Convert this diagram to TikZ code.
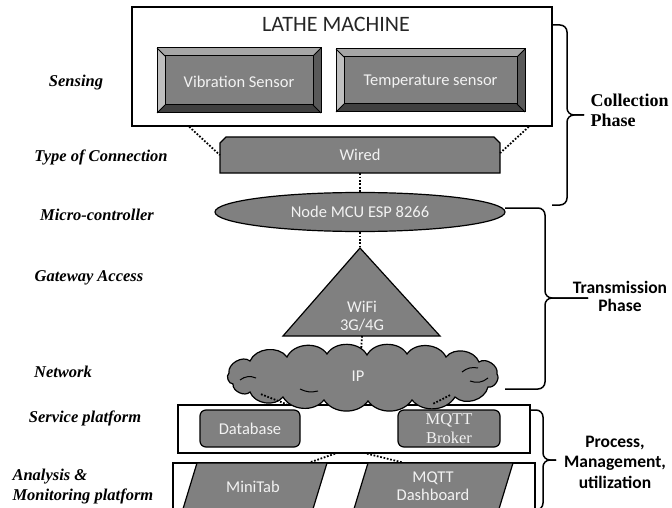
\documentclass[tikz,border=0pt]{standalone}
\usepackage{fontspec}
\setmainfont{Liberation Serif}
\newfontfamily\calibri{Carlito}
\usepackage{tikz}
\usetikzlibrary{shapes.geometric}

\definecolor{facegray}{RGB}{128,128,128}
\definecolor{lighttext}{RGB}{242,242,242}
\definecolor{bevlight}{RGB}{191,191,191}
\definecolor{bevmid}{RGB}{166,166,166}
\definecolor{bevdark}{RGB}{64,64,64}
\definecolor{bevdeep}{RGB}{89,89,89}
\definecolor{titletext}{RGB}{38,38,38}

\begin{document}
\begin{tikzpicture}[x=1pt,y=-1pt]
    \tikzstyle{graybox} = [draw, fill=facegray, line width=1.2pt]
    \tikzstyle{intext} = [text=lighttext, font=\calibri\fontsize{16.5}{18}\selectfont, align=center]
    \tikzstyle{lbl} = [font=\bfseries\itshape\fontsize{16.5}{20}\selectfont]
    \tikzstyle{dotline} = [line width=1.8pt, dash pattern=on 1.7pt off 1.7pt]
    \tikzstyle{bracket} = [line width=1.5pt, rounded corners=7pt]

    \useasboundingbox (0,0) rectangle (672,508);
    \clip (0,0) rectangle (672,508);

    % Lathe machine frame
    \node[draw, line width=1.5pt, minimum width=420pt, minimum height=119pt, inner sep=0pt] (lathe) at (342,66.5) {};
    \node[font=\calibri\fontsize{22}{24}\selectfont, text=titletext] (title) at (336,24) {LATHE MACHINE};

    % Bevelled sensor boxes
    \foreach \n/\xa/\ya/\xb/\yb/\txt in {vib/157/48/321/113/Vibration Sensor, temp/336/49/525/112/Temperature sensor} {
        \fill[facegray] (\xa+8,\ya+8) rectangle (\xb-8,\yb-8);
        \fill[bevmid] (\xa,\ya) -- (\xb,\ya) -- (\xb-8,\ya+8) -- (\xa+8,\ya+8) -- cycle;
        \fill[bevlight] (\xa,\ya) -- (\xa+8,\ya+8) -- (\xa+8,\yb-8) -- (\xa,\yb) -- cycle;
        \fill[bevdark] (\xa,\yb) -- (\xa+8,\yb-8) -- (\xb-8,\yb-8) -- (\xb,\yb) -- cycle;
        \fill[bevdeep] (\xb,\ya) -- (\xb,\yb) -- (\xb-8,\yb-8) -- (\xb-8,\ya+8) -- cycle;
        \draw[line width=1pt] (\xa,\ya) rectangle (\xb,\yb) (\xa+8,\ya+8) rectangle (\xb-8,\yb-8);
        \draw[line width=0.8pt] (\xa,\ya) -- (\xa+8,\ya+8) (\xb,\ya) -- (\xb-8,\ya+8)
            (\xa,\yb) -- (\xa+8,\yb-8) (\xb,\yb) -- (\xb-8,\yb-8);
        \node[intext] (\n) at ({(\xa+\xb)/2},{(\ya+\yb)/2+1}) {\txt};
    }

    % Wired link
    \draw[graybox] (220,173) -- (220,143) -- (226,137) -- (494,137) -- (500,143) -- (500,173) -- cycle;
    \node[intext, minimum width=280pt, minimum height=36pt, inner sep=0pt] (wired) at (360,155) {Wired};
    \draw[dotline] ([xshift=58pt]lathe.south west) -- (wired.west);
    \draw[dotline] ([xshift=-24pt]lathe.south east) -- ([yshift=2pt]wired.east);

    % Micro-controller
    \node[graybox, ellipse, minimum width=290pt, minimum height=39pt, inner sep=0pt, intext] (mcu) at (360,212) {Node MCU ESP 8266};
    \draw[dotline] (wired.south) -- (mcu.north);

    % Gateway
    \draw[graybox] (360,248) coordinate (apex) -- (440,336) -- (283,336) -- cycle;
    \node[intext] (wifi) at (362,316) {WiFi\\3G/4G};
    \coordinate (gwbase) at (362,336);
    \draw[dotline] (mcu.south) -- (apex);

    % Service platform
    \node[draw, line width=1.3pt, minimum width=352pt, minimum height=48pt, inner sep=0pt] (service) at (354,429) {};
    \node[graybox, rounded corners=6pt, minimum width=100pt, minimum height=37pt, inner sep=0pt, intext] (db) at (250,428.5) {Database};
    \node[graybox, rounded corners=6pt, minimum width=102pt, minimum height=37pt, inner sep=0pt, text=lighttext, font=\fontsize{16.5}{19}\selectfont, align=center] (broker) at (449,428.5) {MQTT\\Broker};

    % Network cloud
    \node[ellipse, minimum width=266pt, minimum height=46pt, inner sep=0pt] (ip) at (358,376) {};
    \draw[dotline] (gwbase) -- ([xshift=3pt]ip.north);
    \draw[graybox] (229,373) to[bend left=70] (250,361) to[bend left=60] (287,357)
        to[bend left=60] (327,354) to[bend left=60] (367,355) to[bend left=60] (407,354)
        to[bend left=60] (446,357) to[bend left=60] (479,362) to[bend left=70] (497,374)
        to[bend left=70] (488,387) to[bend left=60] (455,397) to[bend left=55] (412,400)
        to[bend left=55] (368,401) to[bend left=55] (324,400) to[bend left=55] (283,397)
        to[bend left=60] (250,392) to[bend left=70] (233,384) to[bend left=70] cycle;
    \draw[line width=1pt] (240,380) to[bend left=30] (256,378) (470,381) to[bend right=30] (488,378)
        (462,372) to[bend left=25] (478,368) (300,389) to[bend right=20] (318,391);
    \node[intext] (iptext) at (ip.center) {IP};
    \draw[dotline] ([xshift=-97pt,yshift=5pt]ip.south) -- ([xshift=-67pt]service.north);
    \draw[dotline] ([xshift=92pt,yshift=4pt]ip.south) -- ([xshift=78pt]service.north);

    % Analysis and monitoring platform
    \node[draw, line width=1.3pt, minimum width=362pt, minimum height=70pt, inner sep=0pt] (analysis) at (354,498) {};
    \draw[graybox] (197,463) -- (327,463) -- (309,522) -- (179,522) -- cycle;
    \node[intext] (minitab) at (253,487) {MiniTab};
    \draw[graybox] (368,463) -- (513,463) -- (495,522) -- (350,522) -- cycle;
    \node[intext] (dash) at (433,486) {MQTT\\Dashboard};
    \draw[dotline] ([xshift=-19pt]service.south) -- ([xshift=-44pt]analysis.north);
    \draw[dotline] ([xshift=13pt]service.south) -- ([xshift=48pt]analysis.north);

    % Phase brackets
    \draw[bracket] (552,25) -- (567,25) -- (567,115) -- (584,115);
    \draw[bracket] (552,205) -- (567,205) -- (567,115) -- (584,115);
    \draw[bracket] (505,208) -- (545,208) -- (545,298) -- (588,298);
    \draw[bracket] (505,389) -- (545,389) -- (545,298) -- (588,298);
    \draw[bracket] (530,410) -- (543,410) -- (543,460) -- (556,460);
    \draw[bracket] (530,510) -- (543,510) -- (543,460) -- (556,460);

    \node[font=\bfseries\fontsize{18}{20}\selectfont, align=left, anchor=west] (collect) at (587,110) {Collection\\Phase};
    \node[font=\calibri\bfseries\fontsize{17.5}{18}\selectfont, align=center] (trans) at (620,296) {Transmission\\Phase};
    \node[font=\calibri\bfseries\fontsize{17.5}{20.5}\selectfont, align=center] (process) at (615,462) {Process,\\Management,\\utilization};

    % Layer labels
    \foreach \n/\x/\y/\txt in {sens/76/83/Sensing, conn/101/157/Type of Connection, micro/97/215/Micro-controller, gate/89/278/Gateway Access, net/63/372/Network, serv/85/418/Service platform} {
        \node[lbl] (\n) at (\x,\y) {\txt};
    }
    \node[lbl, align=left, anchor=west] (anal) at (9,487) {Analysis \&\\Monitoring platform};
\end{tikzpicture}
\end{document}
